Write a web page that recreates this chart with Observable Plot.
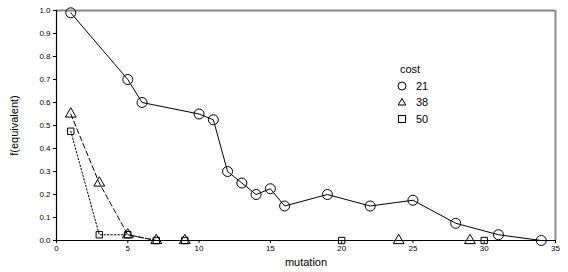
<!DOCTYPE html>
<html><head><meta charset="utf-8">
<script src="https://cdn.jsdelivr.net/npm/d3@7"></script>
<script src="https://cdn.jsdelivr.net/npm/@observablehq/plot@0.6"></script>
<style>
body{margin:0;background:#fff;font-family:"Liberation Sans",Arial,sans-serif;}
#wrap{position:relative;width:568px;height:272px;}
#legend{position:absolute;left:397px;top:61px;font-size:11px;color:#000;line-height:16.5px;}
#legend .row{display:flex;align-items:center;height:16.5px;}
#legend svg{margin-right:8px;}
</style></head>
<body><div id="wrap"><div id="legend"></div></div>
<script>
const legendTitle = "cost";
const seriesNames = ["21", "38", "50"];
const mutation21 = [1,5,6,10,11,12,13,14,15,16,19,22,25,28,31,34];
const feq21 = [0.99,0.70,0.60,0.55,0.525,0.30,0.25,0.20,0.225,0.15,0.20,0.15,0.175,0.075,0.025,0.0];
const mutation38 = [1,3,5,7,9,24,29];
const feq38 = [0.55,0.25,0.025,0,0,0,0];
const mutation50 = [1,3,5,7,9,20,30];
const feq50 = [0.475,0.025,0.025,0,0,0,0];
const xTicks = [0,5,10,15,20,25,30,35];
const yTicks = [0,0.1,0.2,0.3,0.4,0.5,0.6,0.7,0.8,0.9,1.0];

const mk = (xs, ys, s) => xs.map((x,i)=>({mutation:x, f:ys[i], cost:s}));
const d21 = mk(mutation21, feq21, "21");
const d38 = mk(mutation38, feq38, "38");
const d50 = mk(mutation50, feq50, "50");

const chart = Plot.plot({
  width: 568, height: 272,
  marginLeft: 56, marginRight: 13, marginTop: 10, marginBottom: 32,
  style: {fontFamily: '"Liberation Sans", Arial, sans-serif', fontSize: "8px", color:"#000", background:"#fff"},
  x: {domain:[0,35]},
  y: {domain:[0,1]},
  marks: [
    Plot.ruleY([1], {stroke:"#888", strokeWidth:2}),
    Plot.ruleX([35], {stroke:"#888", strokeWidth:2}),
    Plot.line(d21, {x:"mutation", y:"f", stroke:"#000", strokeWidth:1}),
    Plot.line(d38, {x:"mutation", y:"f", stroke:"#000", strokeWidth:1, strokeDasharray:"5,3"}),
    Plot.line(d50, {x:"mutation", y:"f", stroke:"#000", strokeWidth:1, strokeDasharray:"1.5,2"}),
    Plot.ruleY([0], {stroke:"#000", strokeWidth:1.2}),
    Plot.ruleX([0], {stroke:"#000", strokeWidth:1.2}),
    Plot.dot(d21, {x:"mutation", y:"f", symbol:"circle", r:5, stroke:"#000", fill:"none", strokeWidth:1}),
    Plot.dot(d38, {x:"mutation", y:"f", symbol:"triangle", r:4, stroke:"#000", fill:"none", strokeWidth:1}),
    Plot.dot(d50, {x:"mutation", y:"f", symbol:"square", r:3.6, stroke:"#000", fill:"none", strokeWidth:1}),
    Plot.axisX({ticks:xTicks, tickSize:3, tickPadding:2, label:"mutation", labelAnchor:"center", labelArrow:"none", labelOffset:25, fontSize:8}),
    Plot.axisY({ticks:yTicks, tickSize:3, tickPadding:3, tickFormat:d3.format(".1f"), label:"f(equivalent)", labelAnchor:"center", labelArrow:"none", labelOffset:46}),
  ]
});
chart.querySelectorAll('[aria-label="x-axis label"] text, [aria-label="y-axis label"] text').forEach(t=>t.setAttribute("font-size","11px"));
document.getElementById("wrap").prepend(chart);

const lg = document.getElementById("legend");
const head = document.createElement("div");
head.textContent = legendTitle;
head.style.marginLeft = "3px";
lg.appendChild(head);
const shapes = {
  "21": '<circle cx="5" cy="6" r="4" fill="none" stroke="#000"/>',
  "38": '<path d="M5,2.5 L8.8,9 L1.2,9 Z" fill="none" stroke="#000"/>',
  "50": '<rect x="1.5" y="2.5" width="7" height="7" fill="none" stroke="#000"/>'
};
seriesNames.forEach(n=>{
  const r = document.createElement("div"); r.className="row";
  r.innerHTML = `<svg width="11" height="12">${shapes[n]}</svg><span>${n}</span>`;
  lg.appendChild(r);
});
</script></body></html>
